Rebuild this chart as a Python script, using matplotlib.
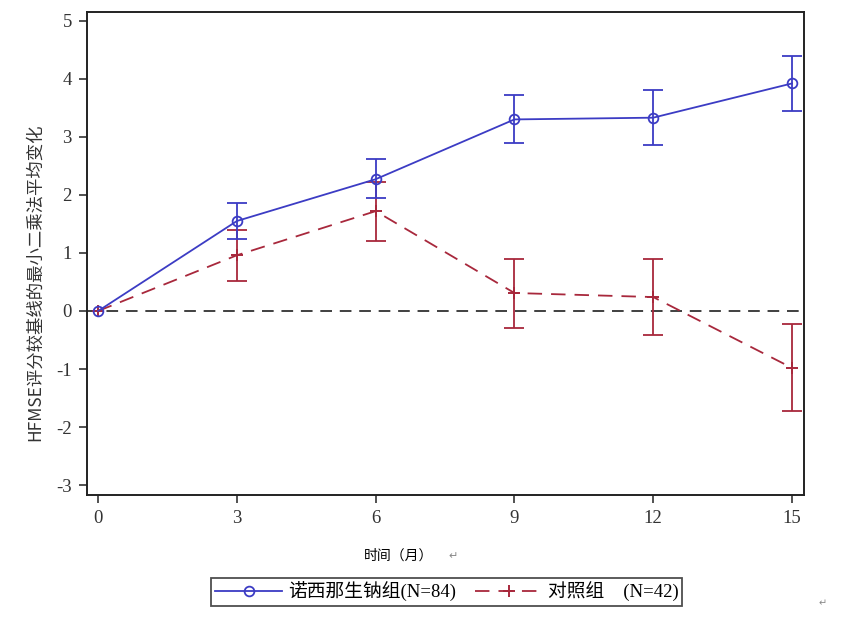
import numpy as np
import matplotlib
matplotlib.use('Agg')
import matplotlib.pyplot as plt

plt.rcParams['font.family'] = ['Liberation Serif', 'Noto Sans CJK SC', 'DejaVu Sans']
plt.rcParams['axes.unicode_minus'] = False

# 月份
months = [0, 3, 6, 9, 12, 15]

# 诺西那生钠组
nus_mean = [0, 1.55, 2.27, 3.30, 3.33, 3.92]
nus_low = [0, 1.24, 1.94, 2.89, 2.86, 3.44]
nus_high = [0, 1.86, 2.61, 3.72, 3.80, 4.40]

# 对照组
ctl_mean = [0, 0.96, 1.72, 0.31, 0.24, -0.98]
ctl_low = [0, 0.52, 1.21, -0.29, -0.41, -1.72]
ctl_high = [0, 1.40, 2.23, 0.90, 0.90, -0.22]

blue = '#3c3cc4'
red = '#a8283c'

fig = plt.figure(figsize=(8.66, 6.2), dpi=100)
ax = fig.add_axes([0.1005, 0.2016, 0.8279, 0.779])

ax.axhline(0, color='#404040', lw=1.4, ls=(0, (6, 4)), zorder=1)

nm = np.array(nus_mean)
cm = np.array(ctl_mean)
nerr = [nm - np.array(nus_low), np.array(nus_high) - nm]
cerr = [cm - np.array(ctl_low), np.array(ctl_high) - cm]

ax.errorbar(months[1:], cm[1:], yerr=[cerr[0][1:], cerr[1][1:]], fmt='none',
            ecolor=red, elinewidth=1.3, capsize=7, capthick=1.3, zorder=2)
l2, = ax.plot(months, cm, color=red, lw=1.3, ls=(0, (8, 5)), marker='+',
              ms=9, mew=1.4, zorder=3)
ax.errorbar(months[1:], nm[1:], yerr=[nerr[0][1:], nerr[1][1:]], fmt='none',
            ecolor=blue, elinewidth=1.3, capsize=7, capthick=1.3, zorder=4)
l1, = ax.plot(months, nm, color=blue, lw=1.3, marker='o', ms=7,
              mfc='none', mew=1.3, zorder=5)

ax.set_xlim(-0.24, 15.26)
ax.set_ylim(-3.17, 5.15)
ax.set_xticks(months)
ax.set_yticks(np.arange(-3, 6, 1))
ax.tick_params(direction='out', length=6, width=1.2, labelsize=13.5,
               colors='#333333', pad=5)
for s in ax.spines.values():
    s.set_linewidth(1.4)
    s.set_color('#222222')

# y轴标题 (位置偏下，和原图一致)
fig.text(0.040, 0.545, 'HFMSE评分较基线的最小二乘法平均变化', fontsize=12.5,
         rotation=90, ha='center', va='center', color='#333333',
         family=['Noto Sans CJK SC', 'DejaVu Sans'])
fig.text(0.42, 0.103, '时间（月）', fontsize=10, ha='left', va='center',
         family=['Noto Sans CJK SC', 'DejaVu Sans'])
fig.text(0.518, 0.103, '↵', fontsize=8, color='#888888', ha='left', va='center',
         family='DejaVu Sans')
fig.text(0.945, 0.027, '↵', fontsize=7, color='#888888', ha='left', va='center',
         family='DejaVu Sans')

leg = fig.legend([l1, l2], ['诺西那生钠组(N=84)', '对照组    (N=42)'],
                 loc='center', bbox_to_anchor=(0.516, 0.045), ncol=2,
                 fancybox=False, edgecolor='#222222',
                 handlelength=3.6, columnspacing=1.0, handletextpad=0.3,
                 borderpad=0.2, borderaxespad=0,
                 prop={'family': ['Liberation Serif', 'Noto Sans CJK SC'], 'size': 13.5})
leg.get_frame().set_linewidth(1.3)

plt.savefig('out.png', dpi=100)
plt.close()
